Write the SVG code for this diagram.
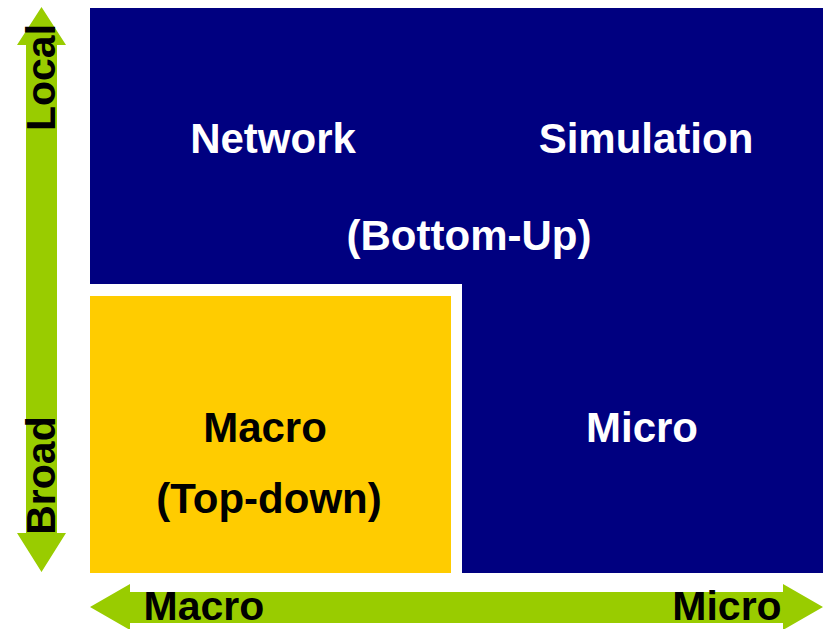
<svg xmlns="http://www.w3.org/2000/svg" width="827" height="629" viewBox="0 0 827 629">
<style>
  .t { font-family: "Liberation Sans", Arial, sans-serif; font-weight: bold; font-size: 42px; text-anchor: middle; }
  .w { fill: #ffffff; }
  .k { fill: #000000; }
  .ax { font-size: 41px; }
</style>
<rect width="827" height="629" fill="#ffffff"/>
<g id="bottom-up">
  <path d="M90,8 H823 V573 H462 V284 H90 Z" fill="#000080"/>
  <text class="t w" x="273" y="153">Network</text>
  <text class="t w" x="646" y="153">Simulation</text>
  <text class="t w" x="469" y="250">(Bottom-Up)</text>
  <text class="t w" x="642" y="442">Micro</text>
</g>
<g id="top-down">
  <rect x="90" y="296" width="361" height="277" fill="#FFCC00"/>
  <text class="t k" x="265" y="442">Macro</text>
  <text class="t k" x="269" y="513">(Top-down)</text>
</g>
<g id="connectors">
  <polygon points="41.5,7 66,45 57,45 57,533 66,533 41.5,572 17,533 26,533 26,45 17,45" fill="#99CC00"/>
  <polygon points="90,607 130,584 130,592 783,592 783,584 823,607 783,630 783,623 130,623 130,630" fill="#99CC00"/>
</g>
<g id="axis-labels">
  <text class="t k ax" transform="translate(55,77.5) rotate(-90)">Local</text>
  <text class="t k ax" transform="translate(55,475.5) rotate(-90)">Broad</text>
  <text class="t k ax" x="204" y="620">Macro</text>
  <text class="t k ax" x="727" y="620">Micro</text>
</g>
</svg>
